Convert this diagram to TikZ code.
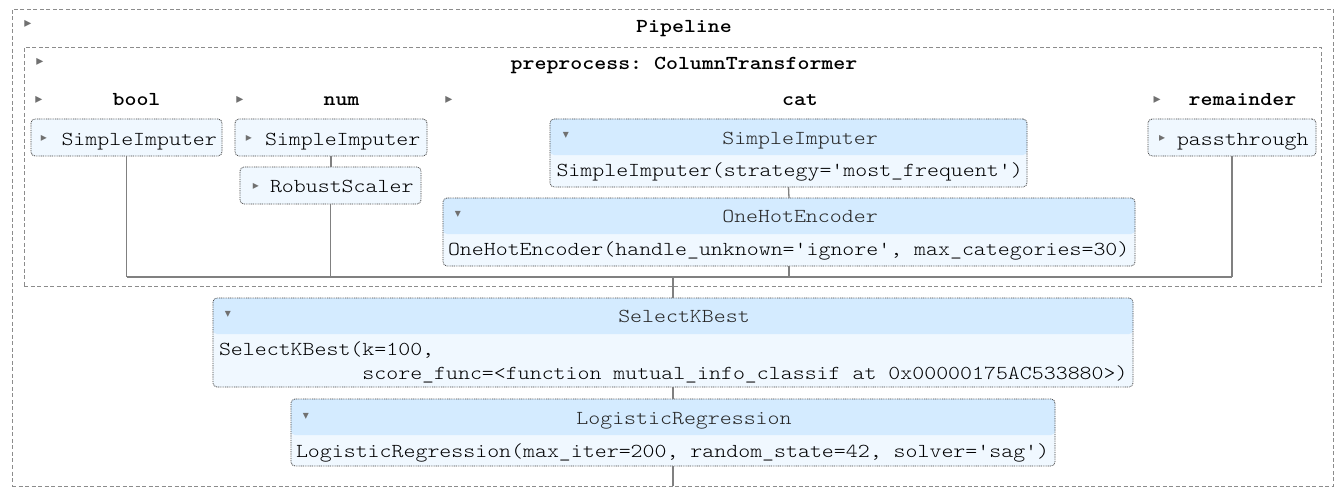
\documentclass[tikz,border=0pt]{standalone}
\usepackage{fontspec}
\setmonofont{lmmonolt10-regular.otf}[BoldFont=lmmonolt10-bold.otf, FakeStretch=1.15]
\newfontfamily\symfont{DejaVu Sans}
\definecolor{hdr}{HTML}{D4EBFF}
\definecolor{bdy}{HTML}{F0F8FF}
\definecolor{lin}{HTML}{808080}
\definecolor{dsh}{HTML}{8C8C8C}
\definecolor{arr}{HTML}{707070}
\definecolor{brd}{HTML}{404040}
\begin{document}
\begin{tikzpicture}[x=1pt,y=-1pt,
  every node/.style={font=\fontsize{19.8}{24}\selectfont\ttfamily, inner sep=0pt, outer sep=0pt},
  txt/.style={anchor=base west, text=black},
  ttl/.style={anchor=base, text=black, font=\fontsize{19.8}{24}\selectfont\ttfamily\bfseries},
  hdtxt/.style={anchor=base, text=black!85},
  tri/.style={font=\fontsize{12}{12}\selectfont\symfont, text=arr, anchor=center},
  bigtri/.style={tri, font=\fontsize{14}{14}\selectfont\symfont},
  cont/.style={draw=dsh, line width=0.9pt, dash pattern=on 4pt off 2.5pt, rectangle},
  estbox/.style={rectangle, rounded corners=4pt, draw=brd, line width=0.8pt,
     dash pattern=on 0.9pt off 0.9pt, fill=bdy},
  hdrbox/.style={estbox, path picture={\fill[hdr] (path picture bounding box.north west)
     rectangle ([yshift=-#1]path picture bounding box.north east);}},
  conn/.style={draw=lin, line width=1.3pt}
]
\useasboundingbox (0,0) rectangle (1340,500);
\fill[white] (0,0) rectangle (1340,500);

% containers
\node[cont, minimum width=1321pt, minimum height=477pt] (pipe) at (672.5,247.5) {};
\node[cont, minimum width=1297pt, minimum height=239pt] (prep) at (672.5,166.5) {};

% estimator boxes
\node[estbox, minimum width=191pt, minimum height=37pt] (bsi) at (126.5,137.5) {};
\node[estbox, minimum width=192pt, minimum height=37pt] (nsi) at (331,137.5) {};
\node[estbox, minimum width=181pt, minimum height=37pt] (rs) at (330.5,185.5) {};
\node[estbox, minimum width=168pt, minimum height=37pt] (pt) at (1232,137.5) {};
\node[hdrbox=36pt, minimum width=477pt, minimum height=68pt] (csi) at (788.5,153) {};
\node[hdrbox=36pt, minimum width=692pt, minimum height=68pt] (ohe) at (789,232) {};
\node[hdrbox=36pt, minimum width=920pt, minimum height=89pt] (skb) at (673,342.5) {};
\node[hdrbox=36pt, minimum width=764pt, minimum height=67pt] (lr) at (673,432.5) {};

% connectors
\coordinate (jL) at (126.5,277);
\coordinate (jR) at (1232,277);
\coordinate (jC) at (673,277);
\draw[conn] (jL) -- (jR);
\draw[conn] (bsi.south) -- (jL);
\draw[conn] (nsi.south) -- (nsi.south |- rs.north);
\draw[conn] (rs.south) -- (rs.south |- jL);
\draw[conn] (csi.south) -- (ohe.north);
\draw[conn] (ohe.south) -- (ohe.south |- jL);
\draw[conn] (pt.south) -- (jR);
\draw[conn] (jC) -- (skb.north);
\draw[conn] (skb.south) -- (lr.north);
\draw[conn] (lr.south) -- (lr.south |- pipe.south);

% titles
\node[bigtri] (a0) at (28,24) {▸};
\node[ttl] (t0) at (684,32.5) {Pipeline};
\node[bigtri] (a1) at (40,62) {▸};
\node[ttl] (t1) at (684,69.5) {preprocess: ColumnTransformer};
\node[bigtri] (a2) at (39,100) {▸};
\node[ttl] (t2) at (136.5,105.5) {bool};
\node[bigtri] (a3) at (240,100) {▸};
\node[ttl] (t3) at (341.5,105.5) {num};
\node[bigtri] (a4) at (449,100) {▸};
\node[ttl] (t4) at (800,105.5) {cat};
\node[bigtri] (a5) at (1157,100) {▸};
\node[ttl] (t5) at (1242.5,105.5) {remainder};

% small box labels
\node[tri] (bsi-a) at (44,138) {▸};
\node[txt] (bsi-t) at (61.5,145) {SimpleImputer};
\node[tri] (nsi-a) at (249,138) {▸};
\node[txt] (nsi-t) at (265,145) {SimpleImputer};
\node[tri] (rs-a) at (256,186) {▸};
\node[txt] (rs-t) at (270,192) {RobustScaler};
\node[tri] (pt-a) at (1162,138) {▸};
\node[txt] (pt-t) at (1177,145) {passthrough};

% expanded box labels
\node[tri] (csi-a) at (566,135) {▾};
\node[hdtxt] (csi-h) at (800,144) {SimpleImputer};
\node[txt] (csi-b) at (556.5,176) {SimpleImputer(strategy='most\_frequent')};
\node[tri] (ohe-a) at (458,214) {▾};
\node[hdtxt] (ohe-h) at (800,222) {OneHotEncoder};
\node[txt] (ohe-b) at (448,255) {OneHotEncoder(handle\_unknown='ignore', max\_categories=30)};
\node[tri] (skb-a) at (228,314) {▾};
\node[hdtxt] (skb-h) at (684,322) {SelectKBest};
\node[txt] (skb-b1) at (219,355) {SelectKBest(k=100,};
\node[txt] (skb-b2) at (219,379) {\phantom{SelectKBest(}score\_func=<function mutual\_info\_classif at 0x00000175AC533880>)};
\node[tri] (lr-a) at (306,416) {▾};
\node[hdtxt] (lr-h) at (684,424) {LogisticRegression};
\node[txt] (lr-b) at (296,457) {LogisticRegression(max\_iter=200, random\_state=42, solver='sag')};
\end{tikzpicture}
\end{document}
